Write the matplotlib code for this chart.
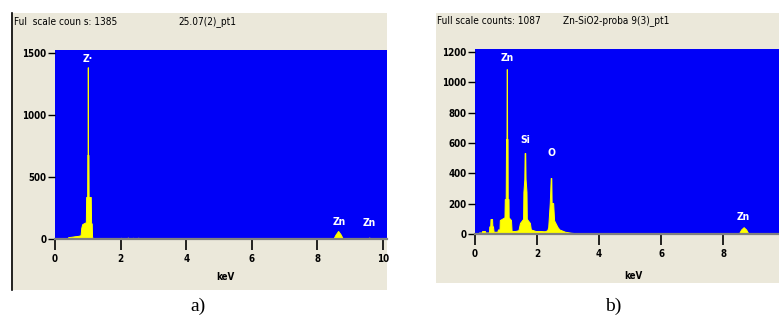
import matplotlib
matplotlib.use("Agg")
from matplotlib import pyplot as plt
from matplotlib.patches import Rectangle
from matplotlib.lines import Line2D

# spectrum a) : 25.07(2)_pt1
a_energy = [0.00, 0.38, 0.40, 0.50, 0.60, 0.70, 0.78, 0.80, 0.83, 0.90, 0.94, 0.95, 0.98, 0.985, 0.995,
            1.00, 1.005, 1.02, 1.025, 1.09, 1.10, 1.12, 1.13, 1.15,
            1.82, 1.84, 1.86, 2.00, 2.02, 2.04, 2.20, 2.22, 2.24, 2.36, 2.38, 2.40, 2.52, 2.54, 2.56,
            2.68, 2.70, 2.72, 2.84, 2.86, 2.88,
            8.48, 8.55, 8.63, 8.70, 8.78, 9.55, 9.58, 9.62, 10.12]
a_counts = [0, 0, 15, 18, 22, 25, 30, 90, 120, 130, 135, 339, 339, 677, 677,
            1385, 677, 677, 339, 339, 130, 125, 20, 0,
            0, 8, 0, 0, 10, 0, 0, 12, 0, 0, 10, 0, 0, 11, 0,
            0, 9, 0, 0, 8, 0,
            0, 35, 65, 40, 0, 0, 12, 0, 0]
a_peaks = ["Z\u00b7", "Zn", "Zn"]
a_peak_x = [1.00, 8.66, 9.57]
a_peak_y = [1452, 137, 130]
a_yticks = [0, 500, 1000, 1500]
a_xticks = [0, 2, 4, 6, 8, 10]

# spectrum b) : Zn-SiO2-proba 9(3)_pt1
b_energy = [0.00, 0.12, 0.13, 0.22, 0.23, 0.32, 0.33, 0.45, 0.46, 0.49, 0.50, 0.55, 0.56, 0.58, 0.60,
            0.72, 0.74, 0.79, 0.80, 0.95, 0.96, 0.99, 1.00, 1.015, 1.02, 1.03, 1.035, 1.05, 1.055,
            1.08, 1.085, 1.16, 1.18, 1.30, 1.40, 1.45, 1.55, 1.56, 1.59, 1.60, 1.62, 1.63, 1.66,
            1.67, 1.77, 1.80, 1.95, 2.10, 2.25, 2.33, 2.36, 2.41, 2.44, 2.46, 2.47, 2.52, 2.55,
            2.66, 2.72, 2.90, 3.10, 3.30, 3.40, 8.50, 8.58, 8.66, 8.74, 8.82, 9.80]
b_counts = [0, 0, 10, 10, 20, 20, 10, 10, 50, 50, 99, 99, 50, 50, 15,
            15, 30, 30, 92, 110, 230, 230, 626, 626, 1087, 1087, 626, 626, 230,
            230, 110, 92, 20, 20, 25, 73, 100, 277, 363, 534, 534, 363, 277,
            100, 73, 30, 20, 20, 18, 25, 46, 204, 369, 369, 204, 204, 90,
            46, 30, 15, 8, 5, 0, 0, 30, 45, 30, 0, 0]
b_peaks = ["Zn", "Si", "O", "Zn"]
b_peak_x = [1.03, 1.61, 2.48, 8.66]
b_peak_y = [1160, 620, 534, 110]
b_yticks = [0, 200, 400, 600, 800, 1000, 1200]
b_xticks = [0, 2, 4, 6, 8]

W, H = 779, 320
BEIGE = "#ebe8da"
BLUE = "#0000f8"
YELLOW = "#ffff00"
cond = ["Liberation Sans Narrow", "DejaVu Sans"]
plt.rcParams["font.family"] = cond
plt.rcParams["font.stretch"] = "condensed"


def px_rect(x0, y0, x1, y1):
    return [x0 / W, 1 - y1 / H, (x1 - x0) / W, (y1 - y0) / H]


fig = plt.figure(figsize=(W / 100, H / 100), dpi=100)
fig.patch.set_facecolor("white")
for r in (px_rect(11, 13, 387, 290), px_rect(436, 13, 779, 283)):
    fig.patches.append(Rectangle((r[0], r[1]), r[2], r[3], transform=fig.transFigure,
                                 facecolor=BEIGE, edgecolor="none", zorder=-10))
fig.lines.append(Line2D([11.5 / W, 11.5 / W], [1 - 290 / H, 1 - 13 / H], transform=fig.transFigure,
                        color="black", lw=1.2, zorder=-5))


def spectrum(rect, energy, counts, xmax, ymax, xticks, yticks, peaks, px, py):
    ax = fig.add_axes(rect)
    ax.set_facecolor(BLUE)
    ax.fill_between(energy, counts, 0, color=YELLOW, lw=0.7, edgecolor=YELLOW)
    ax.set_xlim(0, xmax)
    ax.set_ylim(0, ymax)
    for s in ("top", "right", "left"):
        ax.spines[s].set_visible(False)
    ax.spines["bottom"].set_color("#808080")
    ax.spines["bottom"].set_linewidth(1.6)
    ax.set_xticks(xticks)
    ax.set_yticks(yticks)
    ax.tick_params(axis="x", length=8, width=1.2, color="black", pad=3, labelsize=7)
    ax.tick_params(axis="y", length=5, width=1.0, color="black", pad=1, labelsize=7)
    for lab in ax.get_xticklabels() + ax.get_yticklabels():
        lab.set_fontweight("bold")
    for name, x, y in zip(peaks, px, py):
        ax.text(x, y, name, color="white", ha="center", va="center", fontsize=7.5,
                fontweight="bold")
    return ax


spectrum(px_rect(55, 50, 387, 239), a_energy, a_counts, 10.12, 1524, a_xticks, a_yticks,
         a_peaks, a_peak_x, a_peak_y)
spectrum(px_rect(475, 49, 779, 234), b_energy, b_counts, 9.8, 1220, b_xticks, b_yticks,
         b_peaks, b_peak_x, b_peak_y)

fig.text(14 / W, 1 - 22 / H, "Ful  scale coun s: 1385", fontsize=7.2, va="center")
fig.text(178 / W, 1 - 22 / H, "25.07(2)_pt1", fontsize=7.2, va="center")
fig.text(437 / W, 1 - 21 / H, "Full scale counts: 1087", fontsize=7.2, va="center")
fig.text(563 / W, 1 - 21 / H, "Zn-SiO2-proba 9(3)_pt1", fontsize=7.2, va="center")
fig.text(225 / W, 1 - 277 / H, "keV", fontsize=7, fontweight="bold", ha="center", va="center")
fig.text(633 / W, 1 - 276 / H, "keV", fontsize=7, fontweight="bold", ha="center", va="center")

fig.text(198 / W, 1 - 306 / H, "a)", family="Liberation Serif", fontstretch="normal",
         fontsize=14, ha="center", va="center")
fig.text(613 / W, 1 - 306 / H, "b)", family="Liberation Serif", fontstretch="normal",
         fontsize=14, ha="center", va="center")

fig.savefig("out.png", dpi=100)
